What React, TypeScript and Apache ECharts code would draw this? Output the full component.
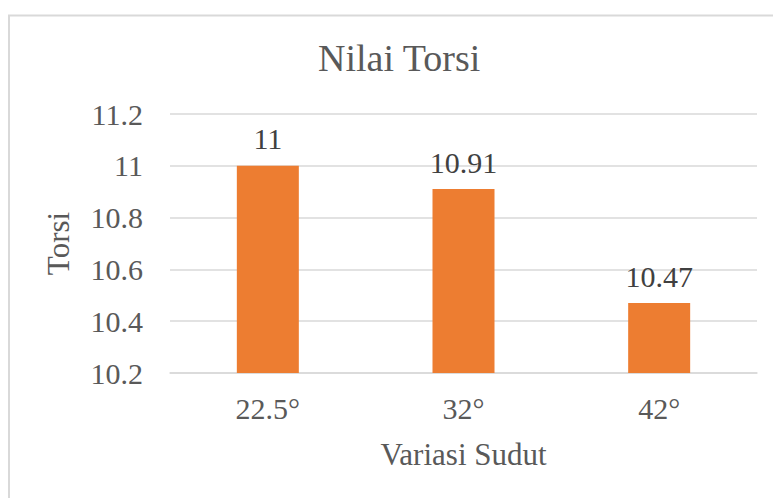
import React, { useEffect, useRef } from "react";
import * as echarts from "echarts";

const categories = ["22.5°", "32°", "42°"];
const torsiValues = [11, 10.91, 10.47];
const yMin = 10.2;
const yMax = 11.2;
const yInterval = 0.2;

const FONT = "Liberation Serif";
const TEXT = "#595959";

export default function App() {
  const ref = useRef<HTMLDivElement>(null);
  useEffect(() => {
    if (!ref.current) return;
    const chart = echarts.init(ref.current, null, { renderer: "svg" });
    chart.setOption({
      animation: false,
      backgroundColor: "#ffffff",
      textStyle: { fontFamily: FONT },
      title: {
        text: "Nilai Torsi",
        left: 313,
        top: 34,
        textStyle: { fontFamily: FONT, fontSize: 38, fontWeight: "normal", color: TEXT },
      },
      graphic: [
        {
          type: "rect",
          shape: { x: 9, y: 15.5, width: 800, height: 600 },
          style: { fill: "none", stroke: "#d9d9d9", lineWidth: 2 },
          silent: true,
        },
      ],
      grid: { left: 170, right: 16, top: 114, bottom: 125 },
      xAxis: {
        type: "category",
        data: categories,
        name: "Variasi Sudut",
        nameLocation: "middle",
        nameGap: 66,
        nameTextStyle: { fontFamily: FONT, fontSize: 31, color: TEXT },
        axisLine: { lineStyle: { color: "#d9d9d9", width: 1.5 } },
        axisTick: { show: false },
        axisLabel: { fontFamily: FONT, fontSize: 30, color: TEXT, margin: 20 },
      },
      yAxis: {
        type: "value",
        min: yMin,
        max: yMax,
        interval: yInterval,
        name: "Torsi",
        nameLocation: "middle",
        nameGap: 96,
        nameRotate: 90,
        nameTextStyle: { fontFamily: FONT, fontSize: 31, color: TEXT },
        axisLine: { show: false },
        axisTick: { show: false },
        splitLine: { lineStyle: { color: "#d9d9d9", width: 1.5 } },
        axisLabel: {
          fontFamily: FONT,
          fontSize: 30,
          color: TEXT,
          margin: 27,
          formatter: (v: number) => String(Math.round(v * 10) / 10),
        },
      },
      series: [
        {
          type: "bar",
          data: torsiValues,
          barWidth: 62,
          itemStyle: { color: "#ED7D31" },
          label: {
            show: true,
            position: "top",
            distance: 12,
            fontFamily: FONT,
            fontSize: 30,
            color: "#404040",
          },
        },
      ],
    });
    return () => chart.dispose();
  }, []);
  return (
    <div
      ref={ref}
      style={{ position: "absolute", left: 0, top: 0, width: 773, height: 498 }}
    />
  );
}
